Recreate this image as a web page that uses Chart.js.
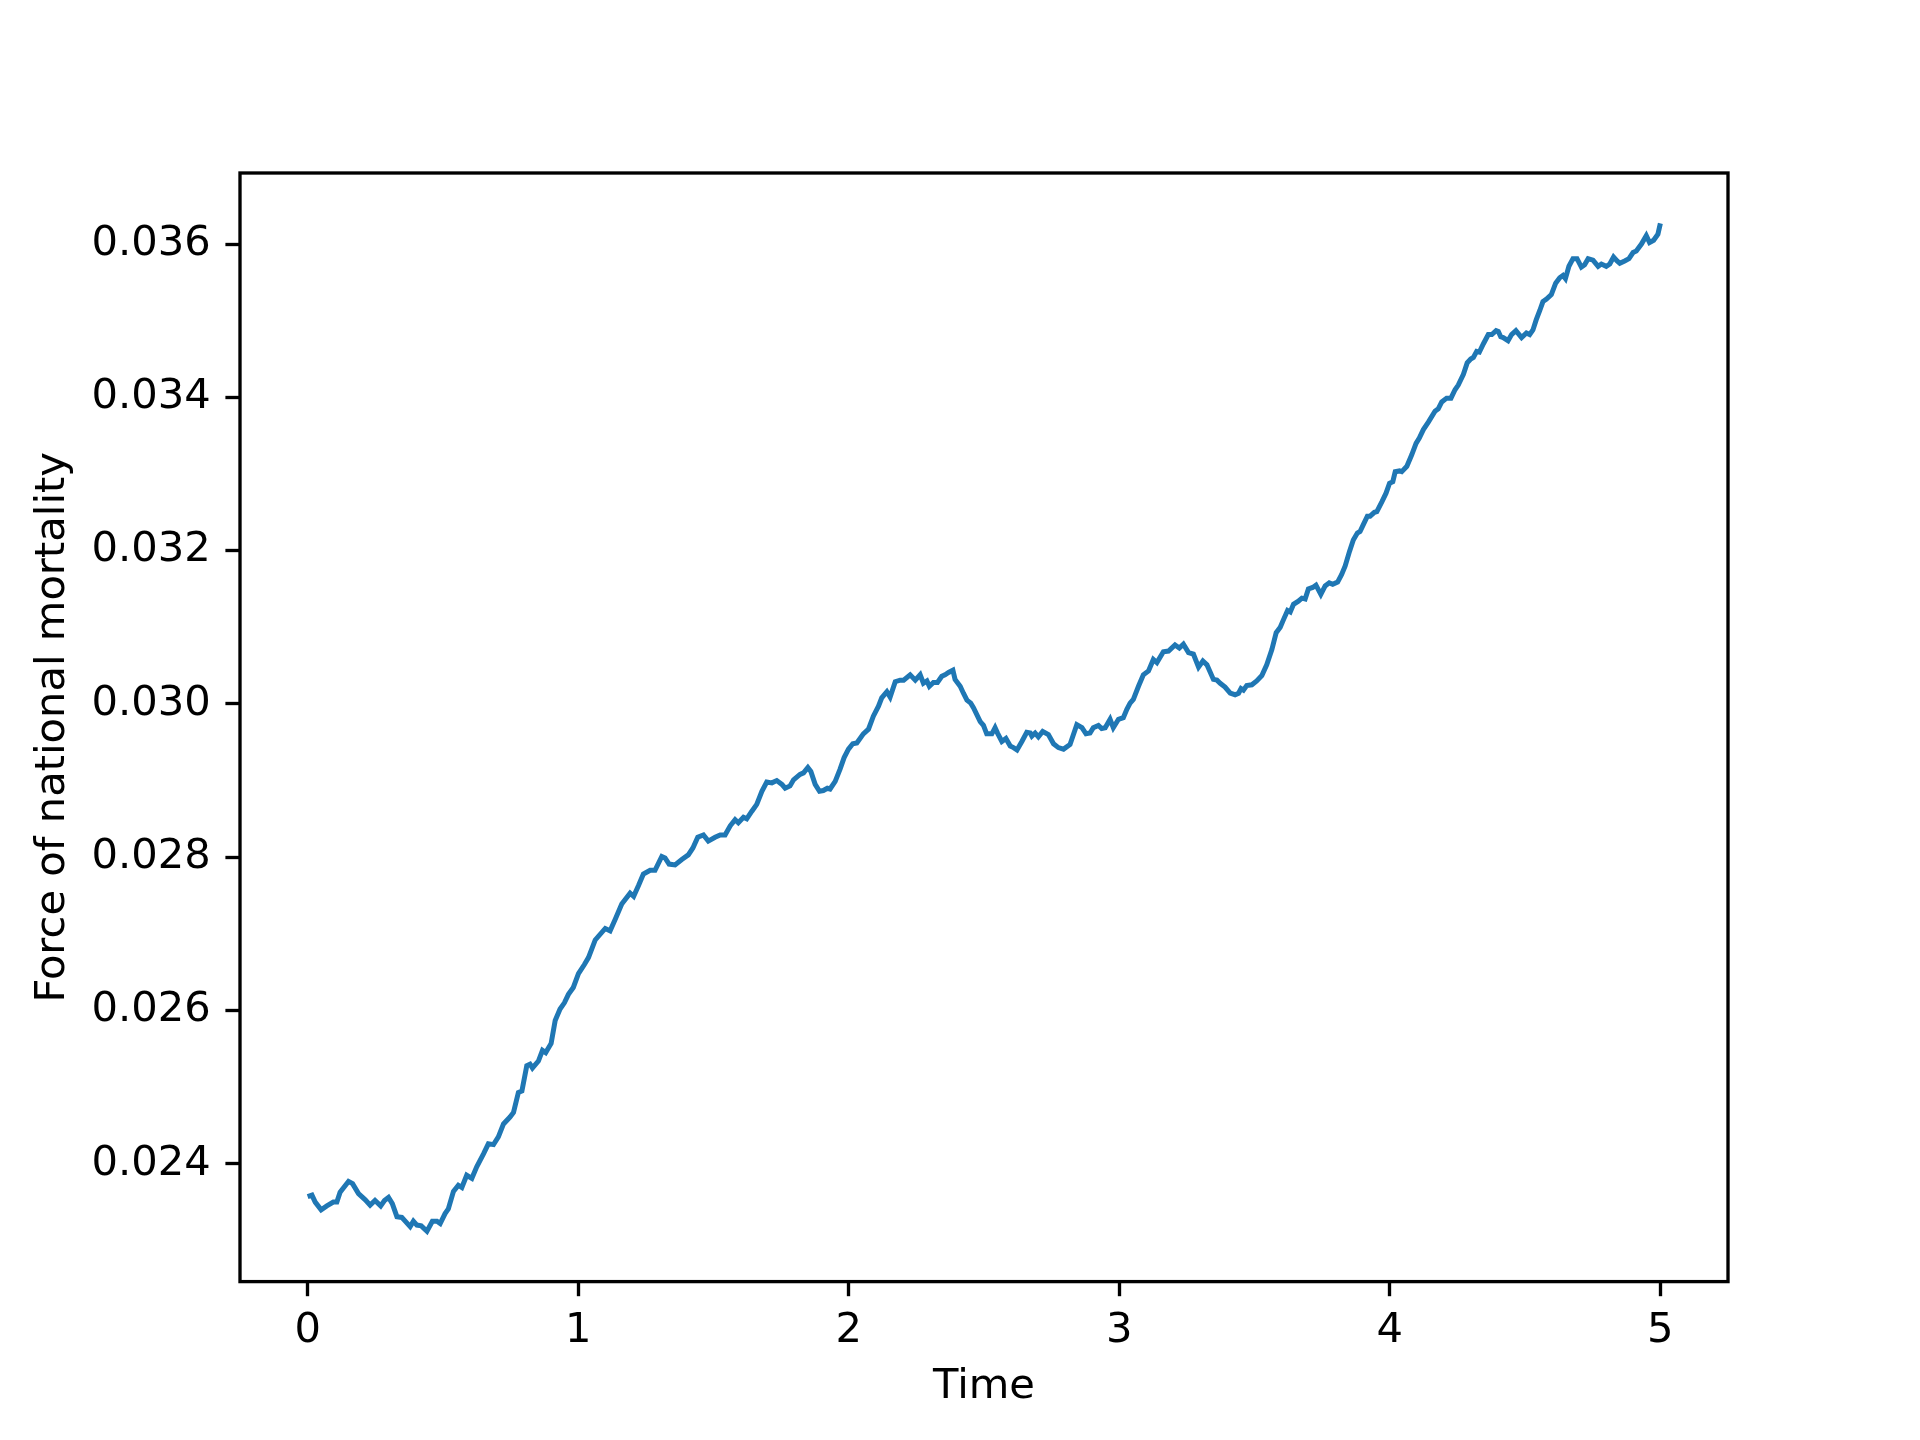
<!DOCTYPE html>
<html>
<head>
<meta charset="utf-8">
<script src="https://cdn.jsdelivr.net/npm/chart.js@4.4.1/dist/chart.umd.min.js"></script>
<style>
    html, body { margin: 0; padding: 0; background: #ffffff; }
    #chart { display: block; }
</style>
</head>
<body>
<canvas id="chart" width="1920" height="1440" style="width:1920px;height:1440px"></canvas>
<script>
// Values
const times = [
    0.000, 0.016, 0.028, 0.050, 0.071, 0.095, 0.108, 0.120, 0.151, 0.166,
    0.188, 0.213, 0.231, 0.249, 0.270, 0.284, 0.299, 0.313, 0.330, 0.348,
    0.379, 0.391, 0.404, 0.420, 0.441, 0.461, 0.478, 0.490, 0.508, 0.520,
    0.539, 0.557, 0.570, 0.588, 0.607, 0.625, 0.650, 0.668, 0.687, 0.705,
    0.724, 0.748, 0.761, 0.779, 0.792, 0.810, 0.822, 0.831, 0.853, 0.868,
    0.880, 0.900, 0.915, 0.933, 0.949, 0.964, 0.982, 1.001, 1.023, 1.038,
    1.063, 1.100, 1.118, 1.137, 1.161, 1.192, 1.205, 1.223, 1.241, 1.266,
    1.284, 1.309, 1.321, 1.336, 1.358, 1.383, 1.407, 1.424, 1.442, 1.463,
    1.481, 1.506, 1.525, 1.543, 1.562, 1.580, 1.592, 1.611, 1.623, 1.642,
    1.660, 1.679, 1.697, 1.716, 1.734, 1.753, 1.765, 1.783, 1.796, 1.820,
    1.833, 1.849, 1.860, 1.876, 1.892, 1.906, 1.921, 1.931, 1.950, 1.968,
    1.983, 1.999, 2.015, 2.030, 2.054, 2.073, 2.091, 2.110, 2.122, 2.141,
    2.153, 2.172, 2.190, 2.203, 2.227, 2.246, 2.264, 2.276, 2.289, 2.298,
    2.313, 2.328, 2.344, 2.356, 2.369, 2.385, 2.393, 2.412, 2.424, 2.437,
    2.451, 2.461, 2.486, 2.498, 2.510, 2.529, 2.541, 2.550, 2.566, 2.581,
    2.597, 2.609, 2.622, 2.640, 2.658, 2.671, 2.677, 2.689, 2.701, 2.717,
    2.738, 2.757, 2.775, 2.794, 2.818, 2.843, 2.862, 2.877, 2.892, 2.904,
    2.923, 2.935, 2.948, 2.966, 2.978, 2.997, 3.015, 3.028, 3.040, 3.052,
    3.071, 3.089, 3.108, 3.126, 3.139, 3.163, 3.182, 3.206, 3.222, 3.237,
    3.256, 3.274, 3.293, 3.309, 3.324, 3.348, 3.361, 3.373, 3.391, 3.410,
    3.428, 3.441, 3.450, 3.459, 3.471, 3.490, 3.508, 3.527, 3.545, 3.564,
    3.580, 3.595, 3.607, 3.622, 3.632, 3.644, 3.662, 3.675, 3.687, 3.699,
    3.715, 3.727, 3.745, 3.761, 3.776, 3.789, 3.807, 3.822, 3.835, 3.851,
    3.865, 3.880, 3.890, 3.902, 3.917, 3.927, 3.943, 3.952, 3.971, 3.986,
    3.999, 4.011, 4.020, 4.036, 4.044, 4.063, 4.081, 4.097, 4.109, 4.124,
    4.143, 4.167, 4.179, 4.192, 4.210, 4.226, 4.241, 4.253, 4.272, 4.286,
    4.299, 4.309, 4.321, 4.331, 4.346, 4.364, 4.377, 4.393, 4.401, 4.410,
    4.419, 4.437, 4.450, 4.466, 4.487, 4.505, 4.517, 4.529, 4.541, 4.554,
    4.566, 4.578, 4.597, 4.613, 4.628, 4.640, 4.649, 4.662, 4.677, 4.692,
    4.708, 4.720, 4.733, 4.751, 4.770, 4.782, 4.800, 4.813, 4.827, 4.840,
    4.850, 4.868, 4.884, 4.899, 4.911, 4.930, 4.948, 4.960, 4.975, 4.991,
    5.000
];

const mortality = [
    0.02357, 0.02359, 0.02350, 0.02340, 0.02345, 0.02350, 0.02350, 0.02363, 0.02377, 0.02374,
    0.02361, 0.02353, 0.02346, 0.02352, 0.02345, 0.02352, 0.02356, 0.02348, 0.02331, 0.02330,
    0.02318, 0.02325, 0.02320, 0.02319, 0.02312, 0.02325, 0.02325, 0.02322, 0.02335, 0.02341,
    0.02364, 0.02372, 0.02369, 0.02385, 0.02381, 0.02396, 0.02413, 0.02426, 0.02425, 0.02435,
    0.02452, 0.02461, 0.02467, 0.02493, 0.02495, 0.02528, 0.02530, 0.02525, 0.02534, 0.02548,
    0.02545, 0.02557, 0.02587, 0.02602, 0.02610, 0.02621, 0.02630, 0.02648, 0.02660, 0.02669,
    0.02692, 0.02707, 0.02704, 0.02719, 0.02739, 0.02753, 0.02749, 0.02763, 0.02778, 0.02783,
    0.02783, 0.02801, 0.02799, 0.02791, 0.02790, 0.02797, 0.02803, 0.02812, 0.02826, 0.02829,
    0.02821, 0.02826, 0.02829, 0.02829, 0.02841, 0.02849, 0.02845, 0.02852, 0.02850, 0.02860,
    0.02869, 0.02886, 0.02898, 0.02897, 0.02900, 0.02895, 0.02890, 0.02893, 0.02901, 0.02908,
    0.02910, 0.02917, 0.02912, 0.02895, 0.02886, 0.02887, 0.02890, 0.02889, 0.02899, 0.02915,
    0.02930, 0.02941, 0.02948, 0.02949, 0.02961, 0.02967, 0.02984, 0.02997, 0.03008, 0.03016,
    0.03009, 0.03029, 0.03031, 0.03031, 0.03038, 0.03031, 0.03038, 0.03027, 0.03030, 0.03023,
    0.03028, 0.03028, 0.03036, 0.03038, 0.03041, 0.03044, 0.03032, 0.03023, 0.03014, 0.03005,
    0.03001, 0.02995, 0.02977, 0.02972, 0.02961, 0.02961, 0.02969, 0.02962, 0.02951, 0.02955,
    0.02945, 0.02943, 0.02940, 0.02951, 0.02963, 0.02962, 0.02958, 0.02962, 0.02957, 0.02964,
    0.02960, 0.02948, 0.02943, 0.02941, 0.02947, 0.02973, 0.02969, 0.02961, 0.02962, 0.02969,
    0.02972, 0.02968, 0.02969, 0.02980, 0.02969, 0.02980, 0.02982, 0.02993, 0.03001, 0.03006,
    0.03023, 0.03038, 0.03043, 0.03058, 0.03054, 0.03068, 0.03069, 0.03077, 0.03073, 0.03078,
    0.03067, 0.03065, 0.03048, 0.03056, 0.03051, 0.03032, 0.03031, 0.03027, 0.03022, 0.03014,
    0.03012, 0.03014, 0.03020, 0.03018, 0.03024, 0.03025, 0.03030, 0.03037, 0.03051, 0.03071,
    0.03093, 0.03100, 0.03110, 0.03122, 0.03120, 0.03130, 0.03134, 0.03138, 0.03137, 0.03150,
    0.03152, 0.03155, 0.03143, 0.03154, 0.03158, 0.03156, 0.03159, 0.03169, 0.03180, 0.03199,
    0.03214, 0.03223, 0.03225, 0.03234, 0.03245, 0.03245, 0.03250, 0.03251, 0.03264, 0.03275,
    0.03288, 0.03290, 0.03303, 0.03304, 0.03303, 0.03310, 0.03325, 0.03340, 0.03347, 0.03358,
    0.03368, 0.03382, 0.03385, 0.03394, 0.03399, 0.03399, 0.03410, 0.03416, 0.03430, 0.03445,
    0.03450, 0.03452, 0.03460, 0.03459, 0.03470, 0.03482, 0.03482, 0.03487, 0.03486, 0.03479,
    0.03478, 0.03474, 0.03482, 0.03487, 0.03478, 0.03484, 0.03482, 0.03488, 0.03501, 0.03513,
    0.03525, 0.03528, 0.03534, 0.03549, 0.03556, 0.03559, 0.03555, 0.03571, 0.03581, 0.03581,
    0.03570, 0.03573, 0.03581, 0.03579, 0.03571, 0.03574, 0.03571, 0.03574, 0.03583, 0.03578,
    0.03575, 0.03578, 0.03581, 0.03589, 0.03591, 0.03600, 0.03611, 0.03602, 0.03605, 0.03613,
    0.03627
];

const xTicks = [0, 1, 2, 3, 4, 5];
const yTicks = [0.024, 0.026, 0.028, 0.030, 0.032, 0.034, 0.036];

// matplotlib-like 5% margins around the data
function padRange(arr) {
    const lo = Math.min(...arr), hi = Math.max(...arr);
    const m = (hi - lo) * 0.05;
    return [lo - m, hi + m];
}
const [xMin, xMax] = padRange(times);
const [yMin, yMax] = padRange(mortality);

const FONT = { family: "'DejaVu Sans', sans-serif", size: 41.67 };
const SPINE = 3.33;

// draw the full box around the plot like matplotlib spines
const frame = {
    id: 'frame',
    afterDatasetsDraw(chart) {
        const { ctx, chartArea: a } = chart;
        ctx.save();
        ctx.strokeStyle = '#000';
        ctx.lineWidth = SPINE;
        ctx.strokeRect(a.left, a.top, a.right - a.left, a.bottom - a.top);
        ctx.restore();
    }
};

const tickGrid = {
    display: true,
    drawOnChartArea: false,
    drawTicks: true,
    tickLength: 14.6,
    tickWidth: SPINE,
    tickColor: '#000'
};

new Chart(document.getElementById('chart').getContext('2d'), {
    type: 'line',
    data: {
        datasets: [{
            data: times.map((t, i) => ({ x: t, y: mortality[i] })),
            borderColor: '#1f77b4',
            borderWidth: 5,
            pointRadius: 0,
            tension: 0,
            fill: false
        }]
    },
    options: {
        responsive: false,
        animation: false,
        devicePixelRatio: 1,
        layout: { padding: { left: 0, right: 192, top: 173, bottom: 0 } },
        plugins: {
            legend: { display: false },
            tooltip: { enabled: false }
        },
        scales: {
            x: {
                type: 'linear',
                min: xMin,
                max: xMax,
                grid: tickGrid,
                border: { display: false },
                afterBuildTicks: axis => { axis.ticks = xTicks.map(v => ({ value: v })); },
                afterFit: axis => { axis.height = 158.4; },
                ticks: {
                    autoSkip: false,
                    maxRotation: 0,
                    padding: 10,
                    color: '#000',
                    font: FONT,
                    callback: v => String(v)
                },
                title: {
                    display: true,
                    text: 'Time',
                    color: '#000',
                    font: FONT,
                    padding: { top: 0, bottom: 27.5 }
                }
            },
            y: {
                type: 'linear',
                min: yMin,
                max: yMax,
                grid: tickGrid,
                border: { display: false },
                afterBuildTicks: axis => { axis.ticks = yTicks.map(v => ({ value: v })); },
                afterFit: axis => { axis.width = 240; },
                ticks: {
                    autoSkip: false,
                    padding: 14.6,
                    color: '#000',
                    font: FONT,
                    callback: v => v.toFixed(3)
                },
                title: {
                    display: true,
                    text: 'Force of national mortality',
                    color: '#000',
                    font: FONT,
                    padding: { top: 28, bottom: 0 }
                }
            }
        }
    },
    plugins: [frame]
});
</script>
</body>
</html>
